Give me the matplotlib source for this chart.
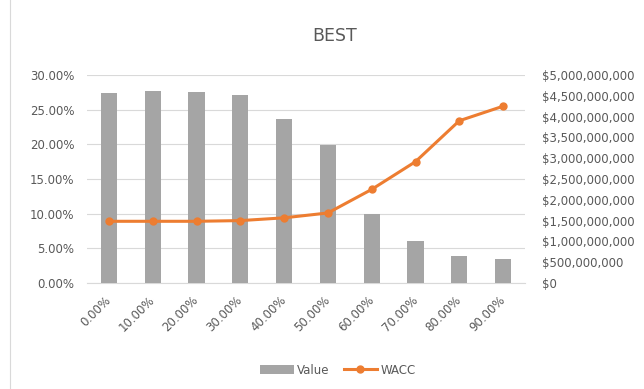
import matplotlib.pyplot as plt
from matplotlib.ticker import FuncFormatter
from matplotlib.patches import Rectangle

plt.rcParams['font.family'] = ['DejaVu Sans']

# data
debt_ratio = ['0.00%', '10.00%', '20.00%', '30.00%', '40.00%',
              '50.00%', '60.00%', '70.00%', '80.00%', '90.00%']
value_bn = [4.57, 4.62, 4.59, 4.53, 3.95, 3.31, 1.66, 1.02, 0.66, 0.58]
wacc_pct = [8.9, 8.9, 8.9, 9.0, 9.4, 10.1, 13.5, 17.5, 23.4, 25.5]

value = [v * 1e9 for v in value_bn]
wacc = [w / 100 for w in wacc_pct]

txt = '#595959'
grid_c = '#D9D9D9'
fs = 8.5

fig = plt.figure(figsize=(6.44, 3.89), dpi=100)
# base axis: percent scale, holds the gridlines and the left labels
ax = fig.add_axes([87 / 644, 1 - 283 / 389, 438 / 644, 208 / 389])
x = list(range(len(debt_ratio)))
ax.set_xlim(-0.5, len(x) - 0.5)
ax.set_ylim(0, 0.30)
ax.set_yticks([i * 0.05 for i in range(7)])
ax.yaxis.set_major_formatter(FuncFormatter(lambda v, p: '{:.2f}%'.format(v * 100)))
ax.grid(axis='y', color=grid_c, linewidth=0.8)
ax.set_xticks(x)
ax.set_xticklabels(debt_ratio, rotation=45, ha='right', va='center',
                   rotation_mode='anchor')

# bars, dollar scale on the right
axb = ax.twinx()
bars = axb.bar(x, value, width=0.37, color='#A5A5A5', label='Value')
axb.set_ylim(0, 5e9)
axb.set_yticks([i * 5e8 for i in range(11)])
axb.yaxis.set_major_formatter(FuncFormatter(lambda v, p: '${:,.0f}'.format(v)))

# WACC line on top, same scale as the left axis
axl = ax.twinx()
line, = axl.plot(x, wacc, color='#ED7D31', linewidth=2.2, marker='o',
                 markersize=5, label='WACC')
axl.set_ylim(0, 0.30)
axl.yaxis.set_visible(False)

for a in (ax, axb, axl):
    for s in a.spines.values():
        s.set_visible(False)
    a.tick_params(length=0, colors=txt, labelsize=fs)
ax.spines['bottom'].set_visible(True)
ax.spines['bottom'].set_color(grid_c)
ax.tick_params(axis='x', pad=11)
ax.tick_params(axis='y', pad=9)
axb.tick_params(axis='y', pad=12)

fig.text(335 / 644, 1 - 36 / 389, 'BEST', ha='center', va='center',
         fontsize=12.5, color=txt)

fig.legend([bars, line], ['Value', 'WACC'], loc='center',
           bbox_to_anchor=(338 / 644, 1 - 370 / 389), ncol=2, frameon=False,
           fontsize=fs, labelcolor=txt, handlelength=2.8, columnspacing=1.2,
           handletextpad=0.3)

# light chart border
fig.patches.append(Rectangle((10 / 644, -0.01), 1.0, 1.02,
                             transform=fig.transFigure, fill=False,
                             edgecolor='#D9D9D9', linewidth=0.8))

fig.savefig('out.png', dpi=100)
